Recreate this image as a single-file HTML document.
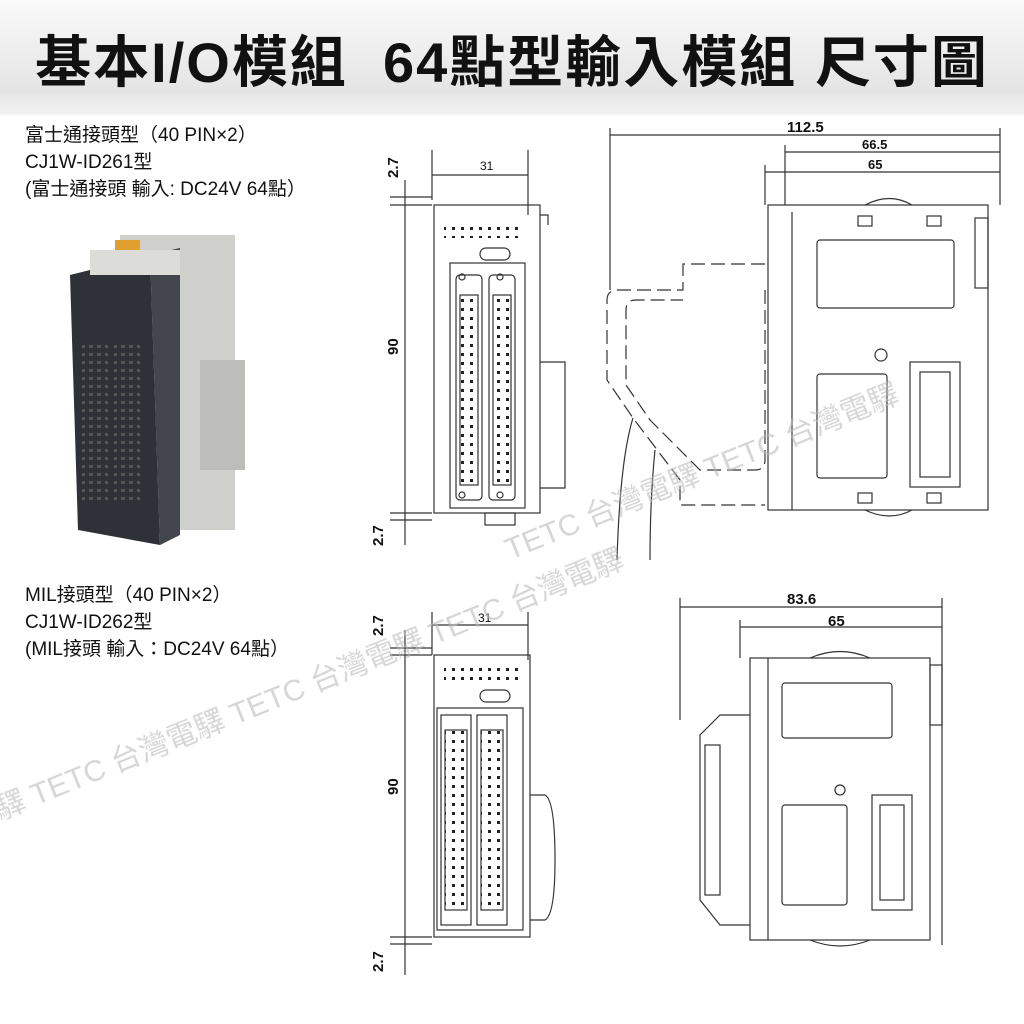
<!DOCTYPE html>
<html><head><meta charset="utf-8"><style>
body{margin:0;width:1024px;height:1024px;background:#fff;overflow:hidden;font-family:"Liberation Sans","Noto Sans CJK TC",sans-serif}
.title{position:absolute;left:0;top:0;width:1024px;height:115px;background:linear-gradient(#fafafa,#e4e4e4 80%,#f4f4f4);}
.title div{position:absolute;left:0;width:1024px;top:18px;text-align:center;font-size:56px;font-weight:bold;color:#111;letter-spacing:2px;white-space:nowrap}
.t{position:absolute;left:25px;font-size:19px;color:#111;line-height:27px}
svg{position:absolute;left:0;top:0}
</style></head><body>
<div class="title"><div>基本I/O模組&nbsp; 64點型輸入模組 尺寸圖</div></div>
<div class="t" style="top:122px">富士通接頭型（40 PIN×2）<br>CJ1W-ID261型<br>(富士通接頭 輸入: DC24V 64點）</div>
<div class="t" style="top:582px">MIL接頭型（40 PIN×2）<br>CJ1W-ID262型<br>(MIL接頭 輸入：DC24V 64點）</div>
<svg width="1024" height="1024" viewBox="0 0 1024 1024" font-family="Liberation Sans, sans-serif">
<defs>
<pattern id="pins" width="9" height="9" patternUnits="userSpaceOnUse"><rect x="2" y="2" width="3" height="3" fill="#222"/></pattern>
<pattern id="pins2" width="8" height="8" patternUnits="userSpaceOnUse"><rect x="1" y="1" width="4" height="3" fill="#555"/></pattern>
</defs>
<!-- photo -->
<g>
<rect x="120" y="235" width="115" height="295" fill="#cfcfcc"/>
<rect x="200" y="360" width="45" height="110" fill="#bdbdba"/>
<polygon points="70,275 150,255 160,545 78,530" fill="#2e3137"/>
<polygon points="150,255 180,248 180,535 160,545" fill="#43464c"/>
<rect x="82" y="340" width="26" height="165" fill="url(#pins2)"/>
<rect x="114" y="340" width="26" height="165" fill="url(#pins2)"/>
<rect x="115" y="240" width="25" height="12" fill="#e0a030"/>
<rect x="90" y="250" width="90" height="25" fill="#dcdcd8"/>
</g>
<g fill="none" stroke="#333" stroke-width="1.2">
<!-- top front -->
<line x1="432" y1="150" x2="432" y2="200"/><line x1="528" y1="150" x2="528" y2="215"/>
<line x1="432" y1="175" x2="528" y2="175"/>
<rect x="434" y="205" width="106" height="308"/>
<rect x="450" y="263" width="75" height="245"/>
<rect x="456" y="275" width="26" height="225" rx="4"/>
<rect x="489" y="275" width="26" height="225" rx="4"/>
<rect x="460" y="295" width="18" height="190" fill="url(#pins)"/>
<rect x="493" y="295" width="18" height="190" fill="url(#pins)"/>
<circle cx="462" cy="277" r="3"/><circle cx="500" cy="277" r="3"/>
<circle cx="462" cy="495" r="3"/><circle cx="500" cy="495" r="3"/>
<rect x="480" y="248" width="30" height="12" rx="6"/>
<polyline points="540,362 565,362 565,488 540,488"/>
<polyline points="540,215 548,215 548,225"/>
<rect x="485" y="513" width="30" height="12"/>
<rect x="444" y="222" width="80" height="16" fill="url(#pins)" stroke="none"/>
<line x1="390" y1="197" x2="432" y2="197"/><line x1="390" y1="205" x2="432" y2="205"/>
<line x1="390" y1="513" x2="432" y2="513"/><line x1="390" y1="520" x2="432" y2="520"/>
<line x1="405" y1="180" x2="405" y2="545"/>
<!-- top side -->
<line x1="610" y1="128" x2="610" y2="290"/><line x1="1000" y1="128" x2="1000" y2="205"/>
<line x1="610" y1="135" x2="1000" y2="135"/>
<line x1="785" y1="145" x2="785" y2="205"/><line x1="785" y1="152" x2="1000" y2="152"/>
<line x1="765" y1="165" x2="765" y2="205"/><line x1="765" y1="172" x2="1000" y2="172"/>
<rect x="768" y="205" width="220" height="305"/>
<line x1="792" y1="212" x2="792" y2="510"/>
<rect x="817" y="240" width="137" height="68" rx="3"/>
<rect x="817" y="374" width="70" height="104" rx="3"/>
<rect x="910" y="362" width="50" height="125"/>
<rect x="920" y="372" width="30" height="105"/>
<circle cx="881" cy="355" r="6"/>
<rect x="858" y="216" width="14" height="10"/><rect x="927" y="216" width="14" height="10"/>
<rect x="858" y="493" width="14" height="10"/><rect x="927" y="493" width="14" height="10"/>
<path d="M865,205 Q890,192 912,205"/><path d="M865,510 Q890,522 912,510"/>
<rect x="975" y="218" width="13" height="70"/>
<g stroke-dasharray="14,6">
<path d="M765,264 H683 V290 H618 Q607,290 607,300 V380 L633,418 L680,480 V505 H765"/>
<path d="M765,290 V460 Q765,470 755,470 H700 L650,420 L626,385 V310 Q626,300 636,300 H683"/>
</g>
<path d="M633,418 Q620,460 617,560"/><path d="M655,450 Q650,500 650,560"/>
<!-- bottom front -->
<line x1="432" y1="612" x2="432" y2="655"/><line x1="528" y1="612" x2="528" y2="660"/>
<line x1="432" y1="625" x2="528" y2="625"/>
<rect x="434" y="655" width="96" height="282"/>
<rect x="437" y="708" width="86" height="222"/>
<rect x="441" y="715" width="30" height="210"/><rect x="477" y="715" width="30" height="210"/>
<rect x="445" y="730" width="22" height="180" fill="url(#pins)"/>
<rect x="481" y="730" width="22" height="180" fill="url(#pins)"/>
<rect x="480" y="690" width="30" height="12" rx="6"/>
<rect x="444" y="665" width="78" height="20" fill="url(#pins)" stroke="none"/>
<path d="M530,795 H545 Q555,800 555,860 Q555,915 545,920 H530"/>
<line x1="390" y1="648" x2="432" y2="648"/><line x1="390" y1="655" x2="432" y2="655"/>
<line x1="390" y1="937" x2="432" y2="937"/><line x1="390" y1="944" x2="432" y2="944"/>
<line x1="405" y1="630" x2="405" y2="975"/>
<!-- bottom side -->
<line x1="680" y1="598" x2="680" y2="720"/><line x1="942" y1="598" x2="942" y2="945"/>
<line x1="680" y1="607" x2="942" y2="607"/>
<line x1="740" y1="620" x2="740" y2="658"/><line x1="740" y1="627" x2="942" y2="627"/>
<rect x="750" y="658" width="180" height="282"/>
<line x1="768" y1="658" x2="768" y2="940"/>
<rect x="782" y="683" width="110" height="55" rx="3"/>
<rect x="782" y="805" width="65" height="100" rx="3"/>
<rect x="872" y="795" width="40" height="115"/><rect x="880" y="805" width="24" height="95"/>
<circle cx="840" cy="790" r="5"/>
<path d="M810,658 Q840,645 870,658"/><path d="M810,940 Q840,952 870,940"/>
<path d="M750,715 H720 L700,735 V900 L720,925 H750"/>
<rect x="705" y="745" width="15" height="150"/>
<rect x="930" y="665" width="12" height="60"/>
</g>
<g font-size="15" font-weight="bold" fill="#111">
<text x="480" y="170" font-weight="normal" font-size="12">31</text>
<text x="478" y="622" font-weight="normal" font-size="12">31</text>
<text x="787" y="132">112.5</text><text x="862" y="149" font-size="13">66.5</text><text x="868" y="169" font-size="13">65</text>
<text x="787" y="604">83.6</text><text x="828" y="626">65</text>
<text transform="translate(398,178) rotate(-90)">2.7</text>
<text transform="translate(398,355) rotate(-90)">90</text>
<text transform="translate(383,546) rotate(-90)">2.7</text>
<text transform="translate(383,636) rotate(-90)">2.7</text>
<text transform="translate(398,795) rotate(-90)">90</text>
<text transform="translate(383,972) rotate(-90)">2.7</text>
</g>
<g font-size="30" fill="#bbb" opacity="0.6" font-family="Liberation Sans, Noto Sans CJK TC, sans-serif">
<text transform="translate(0,820) rotate(-22)">驛 TETC 台灣電驛 TETC 台灣電驛 TETC 台灣電驛</text>
<text transform="translate(510,560) rotate(-22)">TETC 台灣電驛 TETC 台灣電驛</text>
</g>
</svg>
</body></html>
